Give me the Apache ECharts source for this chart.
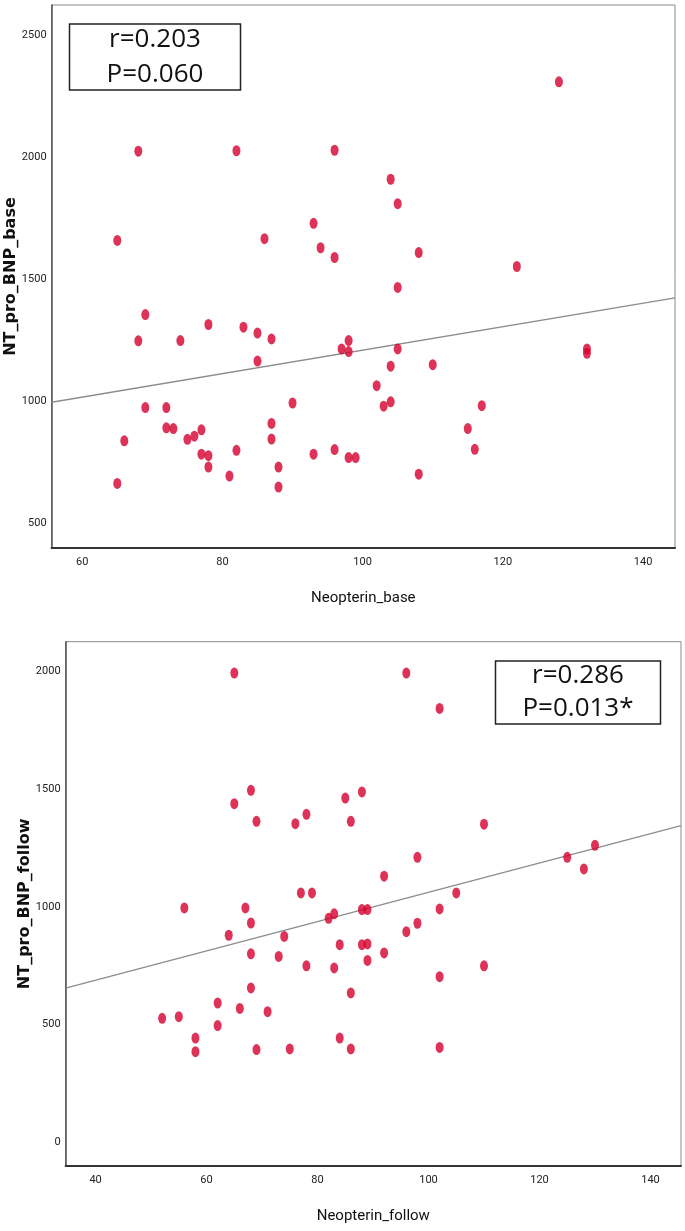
<!DOCTYPE html>
<html>
<head>
<meta charset="utf-8">
<script src="https://cdn.jsdelivr.net/npm/echarts@6/dist/echarts.min.js"></script>
<style>
  html, body { margin: 0; padding: 0; background: #fff; }
  #chart { width: 685px; height: 1231px; }
</style>
</head>
<body>
<div id="chart"></div>
<script>
// ---- Data ----
var topX = [128, 68, 82, 96, 104, 105, 93, 65, 86, 94, 96, 108, 122, 105,
  69, 78, 83, 85, 87, 68, 74, 98, 97, 98, 105, 85, 104, 110, 132, 132,
  102, 90, 69, 72, 103, 104, 117, 72, 73, 77, 87, 115, 66, 75, 76, 87,
  77, 78, 82, 93, 96, 98, 99, 116, 78, 88, 81, 108, 65, 88];
var topY = [2310, 2025, 2027, 2029, 1910, 1810, 1729, 1659, 1666, 1629, 1589, 1609, 1552, 1466,
  1355, 1314, 1303, 1279, 1255, 1247, 1248, 1248, 1214, 1203, 1214, 1164, 1143, 1149, 1214, 1196,
  1063, 992, 973, 973, 979, 997, 981, 890, 887, 882, 908, 887, 837, 843, 856, 844,
  782, 776, 798, 782, 801, 768, 768, 802, 729, 729, 692, 700, 662, 647];

var botX = [65, 96, 102, 68, 65, 88, 85, 69, 76, 78, 86, 110, 98, 130, 125, 128, 92,
  77, 79, 105, 56, 67, 88, 89, 102, 82, 83, 68, 98, 96, 64, 74, 84, 88, 89,
  68, 73, 92, 89, 78, 83, 110, 102, 68, 86, 62, 66, 71, 52, 55, 62, 58, 84,
  58, 69, 75, 86, 102];
var botY = [1994, 1994, 1844, 1496, 1439, 1489, 1463, 1364, 1354, 1394, 1364, 1352, 1211, 1262, 1211, 1162, 1131,
  1060, 1060, 1060, 996, 996, 989, 989, 992, 952, 971, 932, 931, 895, 880, 875, 840, 840, 843,
  801, 790, 805, 773, 750, 741, 750, 704, 656, 635, 592, 569, 555, 527, 534, 496, 443, 443,
  385, 394, 397, 397, 403];

// regression lines: [intercept, slope]
var fitTop = [727.3, 4.813];
var fitBot = [439.4, 6.231];

// axis ranges and tick labels
var topXRange = [55.63, 144.56];
var topYRange = [397, 2625];
var botXRange = [34.6, 145.5];
var botYRange = [-100.7, 2127.5];
var topXTicks = [60, 80, 100, 120, 140];
var topYTicks = [500, 1000, 1500, 2000, 2500];
var botXTicks = [40, 60, 80, 100, 120, 140];
var botYTicks = [0, 500, 1000, 1500, 2000];

var statsTop = ['r=0.203', 'P=0.060'];
var statsBot = ['r=0.286', 'P=0.013*'];

// ---- Build ----
function zip(xs, ys) { return xs.map(function (x, i) { return [x, ys[i]]; }); }
function fitLine(c, r) { return [[r[0], c[0] + c[1] * r[0]], [r[1], c[0] + c[1] * r[1]]]; }

var tickFont = {
  fontFamily: '"Liberation Sans Narrow", "Roboto", sans-serif',
  fontSize: 11, color: '#222'
};
var xNameStyle = {
  fontFamily: '"Liberation Sans Narrow", "Roboto", sans-serif',
  fontSize: 15, color: '#111'
};
var yNameStyle = {
  fontFamily: '"DejaVu Sans", sans-serif', fontWeight: 'bold',
  fontSize: 16, color: '#111'
};

function xAxis(idx, range, ticks, name) {
  return {
    type: 'value', gridIndex: idx, min: range[0], max: range[1],
    name: name, nameLocation: 'middle', nameGap: 43, nameMoveOverlap: false,
    nameTextStyle: xNameStyle,
    axisLine: { show: true, onZero: false, lineStyle: { color: '#333', width: 2 } },
    axisTick: { show: false },
    splitLine: { show: false },
    axisLabel: Object.assign({ customValues: ticks, margin: 9,
      formatter: function (v) { return String(v); } }, tickFont)
  };
}
function yAxis(idx, range, ticks, name, gap) {
  return {
    type: 'value', gridIndex: idx, min: range[0], max: range[1],
    name: name, nameLocation: 'middle', nameGap: gap, nameMoveOverlap: false,
    nameTextStyle: yNameStyle,
    axisLine: { show: true, onZero: false, lineStyle: { color: '#555', width: 1.5 } },
    axisTick: { show: false },
    splitLine: { show: false },
    axisLabel: Object.assign({ customValues: ticks, margin: 5,
      formatter: function (v) { return String(v); } }, tickFont)
  };
}

function statBox(cx, cy, w, h, lines, gap) {
  return {
    type: 'group',
    children: [
      { type: 'rect', shape: { x: cx - w / 2, y: cy - h / 2, width: w, height: h },
        style: { fill: '#fff', stroke: '#222', lineWidth: 1.5 } },
      { type: 'text', x: cx, y: cy - gap / 2,
        style: { text: lines[0], font: '26px "Open Sans", sans-serif', fill: '#111',
                 textAlign: 'center', textVerticalAlign: 'middle' } },
      { type: 'text', x: cx, y: cy + gap / 2,
        style: { text: lines[1], font: '26px "Open Sans", sans-serif', fill: '#111',
                 textAlign: 'center', textVerticalAlign: 'middle' } }
    ]
  };
}

var chart = echarts.init(document.getElementById('chart'), null, { renderer: 'canvas' });
chart.setOption({
  animation: false,
  backgroundColor: '#fff',
  grid: [
    { left: 51.6, top: 5, width: 623.4, height: 543, show: true, borderColor: '#8a8a8a', borderWidth: 1,
      containLabel: false, outerBoundsMode: 'none' },
    { left: 65.6, top: 641.7, width: 615.4, height: 524.3, show: true, borderColor: '#8a8a8a', borderWidth: 1,
      containLabel: false, outerBoundsMode: 'none' }
  ],
  xAxis: [
    xAxis(0, topXRange, topXTicks, 'Neopterin_base'),
    xAxis(1, botXRange, botXTicks, 'Neopterin_follow')
  ],
  yAxis: [
    yAxis(0, topYRange, topYTicks, 'NT_pro_BNP_base', 33),
    yAxis(1, botYRange, botYTicks, 'NT_pro_BNP_follow', 33)
  ],
  series: [
    { type: 'line', xAxisIndex: 0, yAxisIndex: 0, data: fitLine(fitTop, topXRange),
      symbol: 'none', silent: true, lineStyle: { color: '#8c8c8c', width: 1.3 }, z: 1 },
    { type: 'scatter', xAxisIndex: 0, yAxisIndex: 0, data: zip(topX, topY),
      symbol: 'circle', symbolSize: [8, 11], itemStyle: { color: '#d6002e' }, z: 2 },
    { type: 'line', xAxisIndex: 1, yAxisIndex: 1, data: fitLine(fitBot, botXRange),
      symbol: 'none', silent: true, lineStyle: { color: '#8c8c8c', width: 1.3 }, z: 1 },
    { type: 'scatter', xAxisIndex: 1, yAxisIndex: 1, data: zip(botX, botY),
      symbol: 'circle', symbolSize: [8, 11], itemStyle: { color: '#d6002e' }, z: 2 }
  ],
  graphic: [
    statBox(155, 57, 171, 66, statsTop, 35.6),
    statBox(578, 692.4, 165, 63, statsBot, 33)
  ]
});
</script>
</body>
</html>
